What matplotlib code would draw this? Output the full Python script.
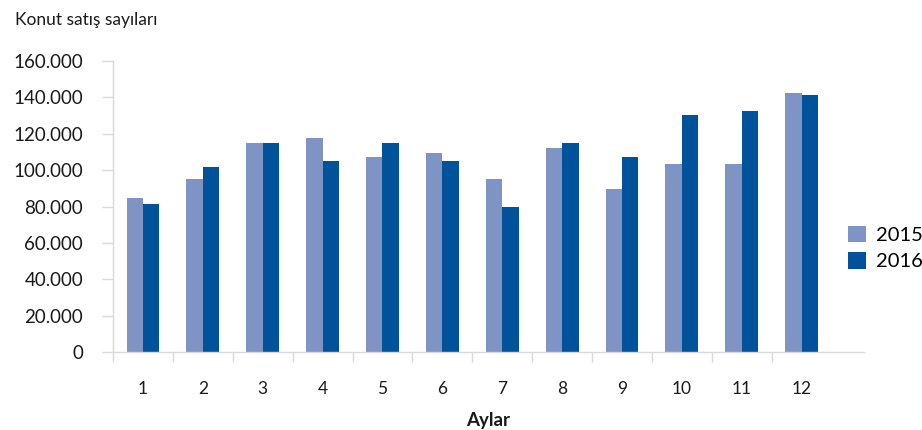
import matplotlib
matplotlib.use("Agg")
import matplotlib.pyplot as plt
import numpy as np
from matplotlib.ticker import FuncFormatter, FixedLocator

plt.rcParams["font.family"] = ["Lato", "DejaVu Sans"]

# monthly housing sales
months = ["1", "2", "3", "4", "5", "6", "7", "8", "9", "10", "11", "12"]
sales_2015 = [84700, 95100, 114900, 117800, 107200, 109400,
              95100, 112200, 89600, 103400, 103400, 142400]
sales_2016 = [81400, 101700, 114900, 105000, 114900, 105000,
              79700, 114900, 107200, 130300, 132500, 141300]
series_names = ["2015", "2016"]

C_2015 = "#7f93c4"
C_2016 = "#00529b"
C_AXIS = "#d9d9d9"
C_TEXT = "#1a1a1a"

fig = plt.figure(figsize=(9.22, 4.30), dpi=100)
ax = fig.add_axes([0.1226, 0.1814, 0.8144, 0.6766])

x = np.arange(len(months))
w = 0.275
b1 = ax.bar(x - w / 2, sales_2015, width=w, color=C_2015, label=series_names[0])
b2 = ax.bar(x + w / 2, sales_2016, width=w, color=C_2016, label=series_names[1])

ax.set_ylim(0, 160000)
ax.set_xlim(-0.5, 12.04)
ax.set_yticks(np.arange(0, 160001, 20000))
ax.yaxis.set_major_formatter(FuncFormatter(lambda v, _: f"{int(v):,}".replace(",", ".")))

# month labels at group centres, tick marks between groups
ax.set_xticks(x)
ax.set_xticklabels(months)
ax.xaxis.set_minor_locator(FixedLocator(np.arange(-0.5, 11, 1.0)))
ax.tick_params(axis="x", which="major", length=0, pad=21, labelsize=12.5, colors=C_TEXT)
ax.tick_params(axis="x", which="minor", length=7, width=1, color=C_AXIS)
ax.tick_params(axis="y", length=8, width=1, color=C_AXIS, pad=13.5,
               labelsize=13.5, labelcolor=C_TEXT)

for side in ("top", "right"):
    ax.spines[side].set_visible(False)
for side in ("left", "bottom"):
    ax.spines[side].set_color(C_AXIS)
    ax.spines[side].set_linewidth(1)

ax.set_xlabel("Aylar", fontsize=13.5, fontweight="bold", color=C_TEXT, labelpad=11)

fig.text(15 / 922, 1 - 20 / 430, "Konut satış sayıları", fontsize=12.5,
         color=C_TEXT, ha="left", va="center")

fig.legend(handles=[b1, b2], loc="center left",
           bbox_to_anchor=(838 / 922, 1 - 248 / 430), frameon=False,
           fontsize=14.5, handlelength=0.9, handleheight=0.9,
           handletextpad=0.5, labelspacing=0.4, borderpad=0)

fig.savefig("out.png", dpi=100, facecolor="white")
